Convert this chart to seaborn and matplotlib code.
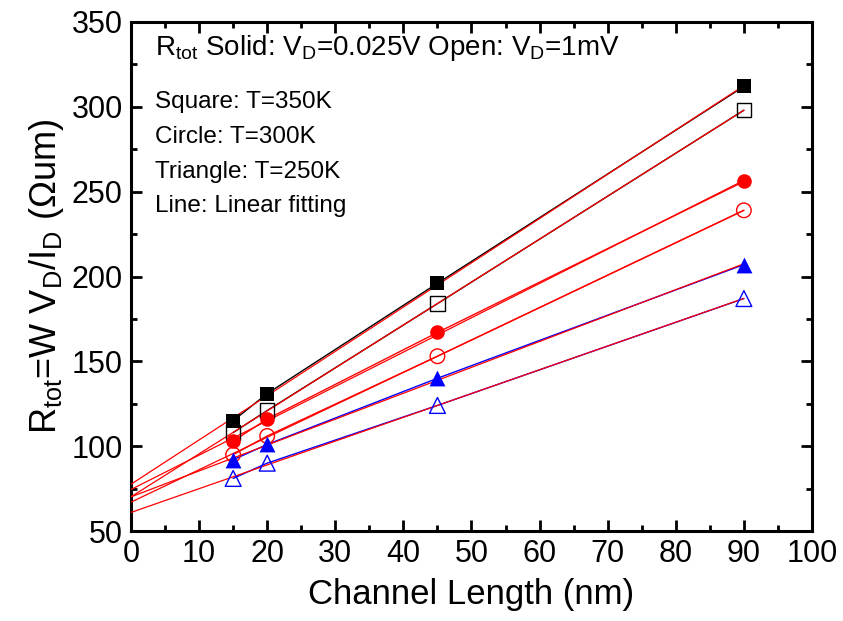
import numpy as np
import pandas as pd
import matplotlib
matplotlib.use("Agg")
import matplotlib.pyplot as plt
from matplotlib.ticker import MultipleLocator
import seaborn as sns

# Channel lengths (nm)
length_nm = [15, 20, 45, 90]

# Total resistance (Ohm um); solid: VD = 0.025 V, open: VD = 1 mV
r_350_solid = [115, 131, 196, 312]
r_350_open = [108, 121, 184, 298]
r_300_solid = [103, 116, 167, 256]
r_300_open = [95, 106, 153, 239]
r_250_solid = [92, 101, 140, 207]
r_250_open = [81, 90, 124, 187]

series = [
    ("350K solid", r_350_solid, "s", "black", True),
    ("350K open", r_350_open, "s", "black", False),
    ("300K solid", r_300_solid, "o", "red", True),
    ("300K open", r_300_open, "o", "red", False),
    ("250K solid", r_250_solid, "^", "blue", True),
    ("250K open", r_250_open, "^", "blue", False),
]

sns.set_style("ticks", {"axes.edgecolor": "black", "text.color": "black",
                        "axes.labelcolor": "black", "xtick.color": "black",
                        "ytick.color": "black"})
plt.rcParams["font.family"] = ["Liberation Sans", "DejaVu Sans"]
plt.rcParams["mathtext.fontset"] = "custom"
plt.rcParams["mathtext.rm"] = "Liberation Sans"
plt.rcParams["mathtext.it"] = "Liberation Sans:italic"

fig = plt.figure(figsize=(8.43, 6.21), dpi=100)
ax = fig.add_axes([0.1554, 0.1449, 0.8078, 0.8197])

for name, vals, marker, color, filled in series:
    df = pd.DataFrame({"L": length_nm, "R": vals})
    # data joined by a thin line in the series colour
    sns.lineplot(data=df, x="L", y="R", ax=ax, color=color, lw=1.0,
                 marker=None, zorder=2)
    # linear fit, drawn from L = 0 to the longest channel
    slope, icpt = np.polyfit(length_nm, vals, 1)
    fit = pd.DataFrame({"L": [0, max(length_nm)]})
    fit["R"] = icpt + slope * fit["L"]
    sns.lineplot(data=fit, x="L", y="R", ax=ax, color="red", lw=0.9, zorder=3)
    sns.scatterplot(data=df, x="L", y="R", ax=ax, marker=marker,
                    s=110 if marker != "^" else 130,
                    facecolor=color if filled else "none",
                    edgecolor=color, linewidth=0.0 if filled else 1.0,
                    zorder=4)

ax.set_xlim(0, 100)
ax.set_ylim(50, 350)
ax.xaxis.set_major_locator(MultipleLocator(10))
ax.xaxis.set_minor_locator(MultipleLocator(5))
ax.yaxis.set_major_locator(MultipleLocator(50))
ax.yaxis.set_minor_locator(MultipleLocator(25))
ax.tick_params(which="both", direction="in", top=True, right=True,
               labeltop=False, labelright=False, colors="black")
ax.tick_params(which="major", length=8, width=2, labelsize=22, pad=6)
ax.tick_params(which="minor", length=4, width=2)
for sp in ax.spines.values():
    sp.set_linewidth(2.2)
    sp.set_color("black")
    sp.set_visible(True)

ax.set_xlabel("Channel Length (nm)", fontsize=25, labelpad=6)
ax.set_ylabel(r"R$_{\rm tot}$=W V$_{\rm D}$/I$_{\rm D}$ (Ωum)", fontsize=26,
              labelpad=4)

ax.text(0.035, 0.948, r"R$_{\rm tot}$ Solid: V$_{\rm D}$=0.025V Open: V$_{\rm D}$=1mV",
        transform=ax.transAxes, fontsize=20, va="center", ha="left")
legend_lines = ["Square: T=350K", "Circle: T=300K", "Triangle: T=250K",
                "Line: Linear fitting"]
for i, t in enumerate(legend_lines):
    ax.text(0.035, 0.842 - i * 0.068, t, transform=ax.transAxes,
            fontsize=17.5, va="center", ha="left")

fig.savefig("out.png", dpi=100)
